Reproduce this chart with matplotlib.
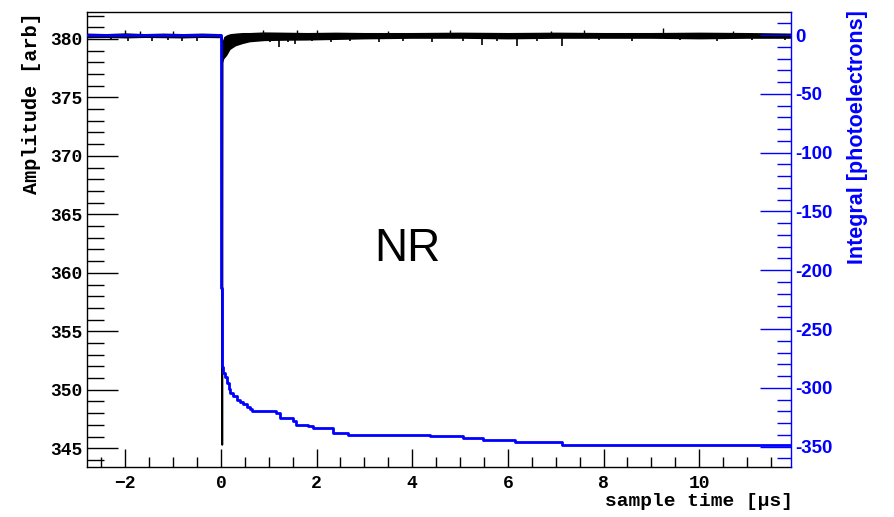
import matplotlib
matplotlib.use("Agg")
import matplotlib.pyplot as plt
from matplotlib.ticker import MultipleLocator, FuncFormatter

# ---------------- data ----------------
# black waveform: baseline noise envelope (time in us, amplitude in arb)
env_t = [-2.8, -2.4, -2.0, -1.6, -1.2, -0.8, -0.4, -0.02, 0.035, 0.06, 0.12, 0.19,
         0.3, 0.45, 0.6, 0.9, 1.3, 1.8, 2.4, 3.0, 4.0, 5.0, 6.0, 7.0, 8.0, 9.0,
         10.0, 11.0, 11.92]
env_lo = [380.10, 380.12, 380.08, 380.12, 380.10, 380.08, 380.12, 380.10, 378.0,
          378.3, 378.6, 379.1, 379.4, 379.6, 379.75, 379.85, 379.88, 379.9, 379.95,
          380.0, 380.05, 380.05, 380.0, 380.05, 380.05, 380.05, 380.0, 380.05, 380.05]
env_hi = [380.50, 380.46, 380.52, 380.46, 380.50, 380.46, 380.50, 380.46, 379.9,
          380.2, 380.35, 380.45, 380.5, 380.55, 380.55, 380.6, 380.58, 380.55, 380.58,
          380.55, 380.55, 380.58, 380.55, 380.58, 380.55, 380.55, 380.58, 380.55, 380.5]
# prompt pulse
pulse_t = [0.0, 0.02, 0.027, 0.034]
pulse_v = [380.3, 380.2, 345.3, 378.5]
# single-photoelectron spikes (downward) and noise hairs (upward)
spike_t = [-2.3, -1.95, -1.44, -1.1, -0.82, -0.5, 0.4, 0.75, 1.03, 1.21, 1.4, 1.55,
           1.9, 2.3, 2.7, 3.3, 3.8, 4.41, 5.07, 5.45, 5.77, 6.19, 6.6, 7.13, 7.9,
           8.6, 9.6, 10.38, 11.1, 11.8]
spike_v = [379.9, 379.8, 379.85, 379.9, 379.8, 379.85, 379.6, 379.8, 379.7, 379.3,
           379.75, 379.6, 379.8, 379.75, 379.8, 379.7, 379.85, 379.75, 379.8, 379.5,
           379.8, 379.4, 379.85, 379.4, 379.9, 379.85, 379.9, 379.85, 379.9, 379.9]
hair_t = [-2.0, -1.7, -1.0, 0.88, 1.6, 2.0, 3.5, 4.8, 6.9, 7.6, 9.25, 10.7]
hair_v = [380.75, 380.7, 380.7, 380.8, 380.75, 380.75, 380.7, 380.75, 380.7, 380.75,
          380.9, 380.7]

# blue integral (photoelectrons), step changes
int_t = [-2.8, 0.0, 0.004, 0.008, 0.012, 0.016, 0.02, 0.03, 0.05, 0.08, 0.12, 0.16,
         0.2, 0.26, 0.33, 0.4, 0.47, 0.54, 0.6, 0.64, 1.16, 1.24, 1.51, 1.58, 1.82,
         1.93, 2.34, 2.66, 4.37, 5.06, 5.48, 6.15, 7.13, 11.92]
int_v = [0, -40, -100, -160, -215, -255, -275, -282, -287, -291, -296, -301, -304,
         -307, -310, -312, -314, -316, -318, -320, -321.7, -326, -328, -331.5,
         -332.5, -334.5, -338, -340, -341, -343, -344, -346.4, -348.5, -348.5]

x_ticks = [-2, 0, 2, 4, 6, 8, 10]
amp_ticks = [345, 350, 355, 360, 365, 370, 375, 380]
int_ticks = [-350, -300, -250, -200, -150, -100, -50, 0]

# ---------------- figure ----------------
fig = plt.figure(figsize=(8.94, 5.17), dpi=100)
ax = fig.add_axes([87/894, 1-467/517, 704/894, 455/517])
ax2 = ax.twinx()

mono = "Liberation Mono"
sans = "Liberation Sans"

# black waveform
ax.fill_between(env_t, env_lo, env_hi, color="black", lw=0, zorder=2)
ax.plot(pulse_t, pulse_v, color="black", lw=1.4, zorder=3)
base = 380.3
ax.vlines(spike_t, [base]*len(spike_t), spike_v, color="black", lw=1.2, zorder=3)
ax.vlines(hair_t, [base]*len(hair_t), hair_v, color="black", lw=1.0, zorder=3)

ax.set_xlim(-2.8, 11.92)
ax.set_ylim(343.4, 382.3)
ax.set_xticks(x_ticks)
ax.set_xticklabels([("\u2212%d" % -v) if v < 0 else str(v) for v in x_ticks])
ax.xaxis.set_minor_locator(MultipleLocator(0.5))
ax.set_yticks(amp_ticks)
ax.yaxis.set_minor_locator(MultipleLocator(1))

ax.tick_params(axis="x", which="major", direction="in", length=13, width=1,
               pad=5.5, top=False, bottom=True)
ax.tick_params(axis="x", which="minor", direction="in", length=7, width=1,
               top=False, bottom=True)
ax.tick_params(axis="y", which="major", direction="in", length=22, width=1,
               pad=3.6, right=False)
ax.tick_params(axis="y", which="minor", direction="in", length=12, width=1,
               right=False)
for lab in ax.get_xticklabels() + ax.get_yticklabels():
    lab.set_fontfamily(mono)
    lab.set_fontweight("bold")
    lab.set_fontsize(13)

# blue integral
ax2.plot(int_t, int_v, color="#0000ff", lw=2.0, drawstyle="steps-post", zorder=4)
ax2.set_ylim(-367.3, 19.6)
ax2.set_yticks(int_ticks)
ax2.yaxis.set_major_formatter(FuncFormatter(lambda v, p: "%d" % v))
ax2.yaxis.set_minor_locator(MultipleLocator(10))
ax2.tick_params(axis="y", which="major", direction="in", length=22, width=1,
                pad=3, colors="#0000ff", left=False)
ax2.tick_params(axis="y", which="minor", direction="in", length=10, width=1,
                colors="#0000ff", left=False)
for lab in ax2.get_yticklabels():
    lab.set_fontfamily(sans)
    lab.set_fontweight("bold")
    lab.set_fontsize(13.5)

for a in (ax, ax2):
    for s in a.spines.values():
        s.set_linewidth(1.0)
ax.spines["right"].set_visible(False)
ax2.spines["right"].set_color("#0000ff")
ax2.spines["left"].set_visible(False)
ax2.spines["top"].set_visible(False)
ax2.spines["bottom"].set_visible(False)

# labels
fig.text(32/894, 1-12/517, "Amplitude [arb]", rotation=90, ha="center", va="top",
         family=mono, weight="bold", fontsize=14.5)
fig.text(858/894, 1-10/517, "Integral [photoelectrons]", rotation=90, ha="center",
         va="top", family=sans, weight="bold", fontsize=15.5, color="#0000ff")
fig.text(793/894, 1-501/517, "sample time [\u00b5s]", ha="right", va="center",
         family=mono, weight="bold", fontsize=14)
ax.text(0.4545, 0.479, "NR", transform=ax.transAxes, ha="center", va="center",
        family=sans, fontsize=33, color="black")

fig.savefig("out.png", dpi=100, facecolor="white")
